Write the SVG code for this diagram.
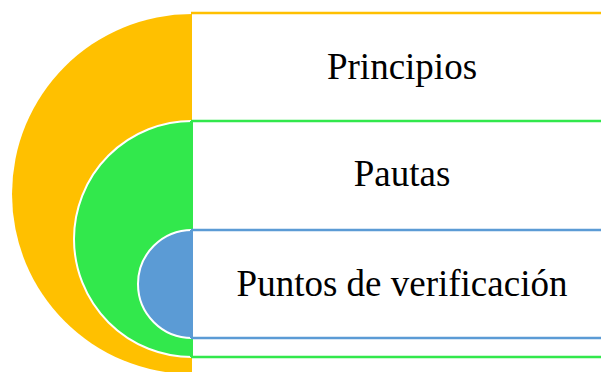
<svg xmlns="http://www.w3.org/2000/svg" width="601" height="372" viewBox="0 0 601 372">
<style>
.lbl{font-family:"Liberation Serif","Times New Roman",serif;font-size:37px;fill:#000;text-anchor:middle}
.arc{stroke:#fff;stroke-width:2}
</style>
<rect width="601" height="372" fill="#fff"/>
<g id="node-principios">
<path d="M192 14 A180 180 0 0 0 192 374 Z" fill="#FFC000"/>
<line x1="191" y1="13" x2="601" y2="13" stroke="#FFC000" stroke-width="2.5"/>
<text class="lbl" x="402" y="79">Principios</text>
</g>
<g id="node-pautas">
<path class="arc" d="M192 121 A118 118 0 0 0 192 357" fill="#32E84C"/>
<rect x="190" y="121" width="3" height="236" fill="#32E84C"/>
<line x1="191" y1="121" x2="601" y2="121" stroke="#32E84C" stroke-width="2.5"/>
<line x1="191" y1="357" x2="601" y2="357" stroke="#32E84C" stroke-width="2.5"/>
<text class="lbl" x="402" y="186">Pautas</text>
</g>
<g id="node-puntos">
<path class="arc" d="M192 230 A54 54 0 0 0 192 338" fill="#5B9BD5"/>
<rect x="190" y="230" width="3" height="108" fill="#5B9BD5"/>
<line x1="191" y1="230" x2="601" y2="230" stroke="#5B9BD5" stroke-width="2.5"/>
<line x1="191" y1="338" x2="601" y2="338" stroke="#5B9BD5" stroke-width="2.5"/>
<text class="lbl" x="402" y="296">Puntos de verificación</text>
</g>
<g id="connectors"></g>
</svg>
